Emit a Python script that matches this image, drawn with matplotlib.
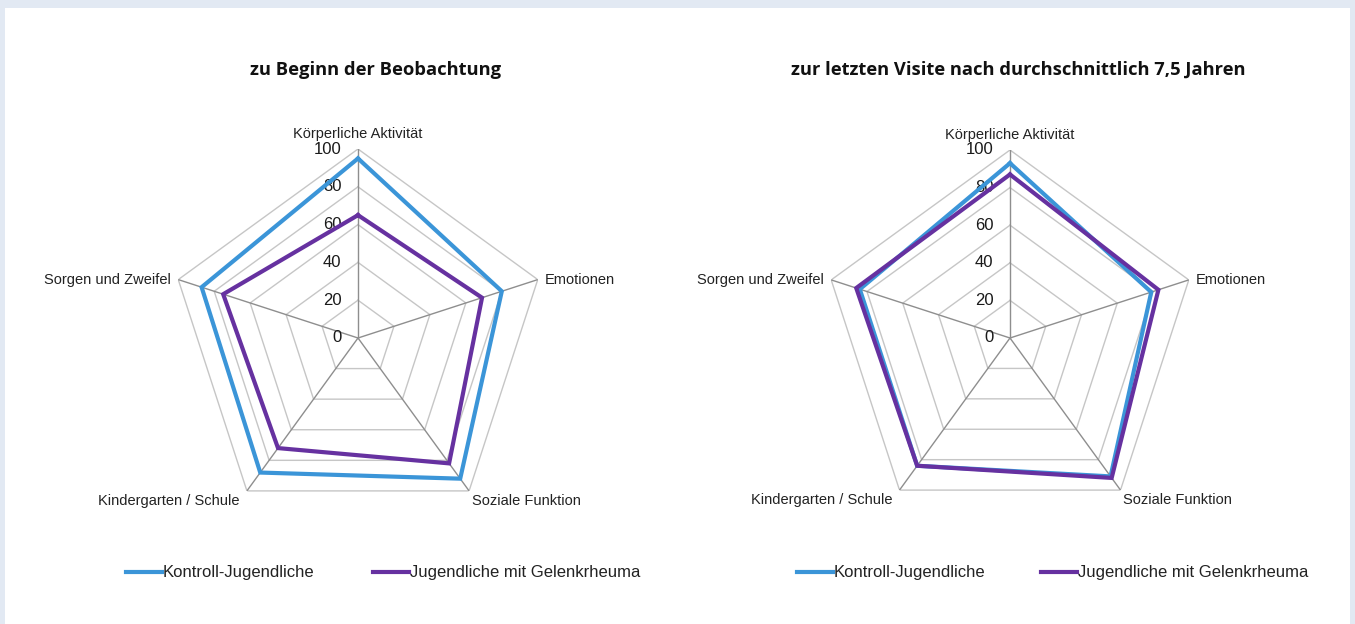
import numpy as np
import matplotlib
matplotlib.use("Agg")
import matplotlib.pyplot as plt
from matplotlib.patches import Rectangle
from matplotlib.lines import Line2D

categories = ["Körperliche Aktivität", "Emotionen", "Soziale Funktion",
              "Kindergarten / Schule", "Sorgen und Zweifel"]
series_names = ["Kontroll-Jugendliche", "Jugendliche mit Gelenkrheuma"]

# zu Beginn der Beobachtung
start_kontroll = [95, 80, 92, 88, 87]
start_rheuma = [65, 69, 82, 72, 75]
# zur letzten Visite
end_kontroll = [93, 79, 91, 84, 84]
end_rheuma = [87, 83, 92, 84, 86]

titles = ["zu Beginn der Beobachtung",
          "zur letzten Visite nach durchschnittlich 7,5 Jahren"]
r_ticks = [0, 20, 40, 60, 80, 100]

BLUE = "#3b95d8"
PURPLE = "#6631a0"
W, H = 1355, 624

plt.rcParams["font.family"] = ["Liberation Sans", "DejaVu Sans"]

fig = plt.figure(figsize=(W / 100, H / 100), dpi=100)
fig.patch.set_facecolor("#e2e9f3")
fig.patches.append(Rectangle((5 / W, 0), (W - 10) / W, (H - 8) / H,
                             transform=fig.transFigure, facecolor="white",
                             edgecolor="none", zorder=-10))

n = len(categories)
theta = np.linspace(0, 2 * np.pi, n, endpoint=False)
theta_c = np.append(theta, theta[0])

# label offsets in points (dx, dy, ha, va)
label_pos = [(0, 6, "center", "bottom"),
             (5, 0, "left", "center"),
             (2, -2, "left", "top"),
             (-5, -2, "right", "top"),
             (-5, 0, "right", "center")]


def radar(rect, kontroll, rheuma, title, title_x):
    ax = fig.add_axes(rect, projection="polar")
    ax.set_theta_offset(np.pi / 2)
    ax.set_theta_direction(-1)
    ax.set_ylim(0, 100)
    ax.grid(False)
    ax.spines["polar"].set_visible(False)
    ax.set_xticks([])
    ax.set_yticks([])
    ax.patch.set_alpha(0)
    for r in r_ticks[1:]:
        ax.plot(theta_c, [r] * (n + 1), color="#c6c6c6", lw=1.0, zorder=1)
    for t in theta:
        ax.plot([t, t], [0, 100], color="#8e8e8e", lw=1.0, zorder=2)
    for r in r_ticks:
        ax.annotate(str(r), xy=(0, r), xytext=(-12, 0), textcoords="offset points",
                    ha="right", va="center", fontsize=12, color="#1a1a1a",
                    zorder=3)
    ax.plot(theta_c, kontroll + kontroll[:1], color=BLUE, lw=3, zorder=4,
            solid_joinstyle="miter")
    ax.plot(theta_c, rheuma + rheuma[:1], color=PURPLE, lw=3, zorder=5,
            solid_joinstyle="miter")
    for t, lab, (dx, dy, ha, va) in zip(theta, categories, label_pos):
        ax.annotate(lab, xy=(t, 100), xytext=(dx, dy), textcoords="offset points",
                    ha=ha, va=va, fontsize=10.5, color="#222222",
                    annotation_clip=False)
    fig.text(title_x / W, 1 - 70 / H, title, ha="center", va="center",
             fontsize=13.2, fontweight="bold", family=["Open Sans", "DejaVu Sans"],
             color="#111111")


radar([169 / W, 97 / H, 378 / W, 378 / H], start_kontroll, start_rheuma,
      titles[0], 376)
radar([822 / W, 98 / H, 376 / W, 376 / H], end_kontroll, end_rheuma,
      titles[1], 1018)


def legend(x0, x1):
    y = 1 - 572 / H
    for xs, col, name in [(x0, BLUE, series_names[0]), (x1, PURPLE, series_names[1])]:
        fig.add_artist(Line2D([xs / W, (xs + 36) / W], [y, y], color=col, lw=3,
                              transform=fig.transFigure))
        fig.text((xs + 37) / W, y, name, ha="left", va="center", fontsize=12,
                 color="#222222")


legend(126, 373)
legend(797, 1041)

fig.savefig("out.png", dpi=100)
